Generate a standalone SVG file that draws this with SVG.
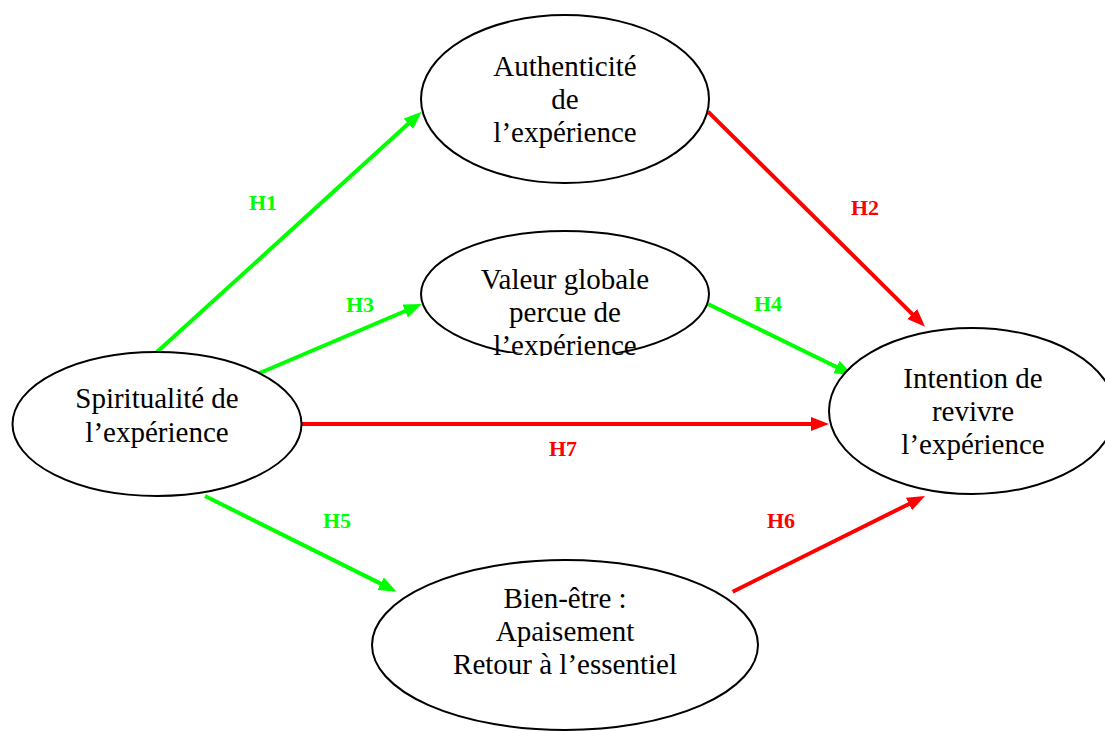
<svg xmlns="http://www.w3.org/2000/svg" width="1105" height="731" viewBox="0 0 1105 731">
<style>
.node ellipse{fill:#fff;stroke:#000;stroke-width:2}
.t{font-family:"Liberation Serif","Times New Roman",serif;font-size:29px;fill:#000;text-anchor:middle}
.g{stroke:#00FF00;stroke-width:4;fill:none}
.r{stroke:#FF0000;stroke-width:4;fill:none}
.lg{font-family:"Liberation Serif","Times New Roman",serif;font-size:22px;font-weight:bold;fill:#00FF00;text-anchor:middle}
.lr{font-family:"Liberation Serif","Times New Roman",serif;font-size:22px;font-weight:bold;fill:#FF0000;text-anchor:middle}
</style>
<defs>
<marker id="ag" markerUnits="userSpaceOnUse" markerWidth="20" markerHeight="16" refX="4" refY="7" orient="auto"><path d="M0,0 L18,7 L0,14 z" fill="#00FF00"/></marker>
<marker id="ar" markerUnits="userSpaceOnUse" markerWidth="20" markerHeight="16" refX="4" refY="7" orient="auto"><path d="M0,0 L18,7 L0,14 z" fill="#FF0000"/></marker>
<clipPath id="cv"><rect x="440" y="255" width="250" height="101"/></clipPath>
</defs>
<rect width="1105" height="731" fill="#fff"/>
<g id="connectors">
<line class="g" x1="157" y1="352" x2="411.3" y2="121.1" marker-end="url(#ag)"/>
<line class="r" x1="708" y1="111.7" x2="915.1" y2="316.8" marker-end="url(#ar)"/>
<line class="g" x1="255" y1="375" x2="408.8" y2="309.5" marker-end="url(#ag)"/>
<line class="g" x1="708" y1="304" x2="840.1" y2="368.8" marker-end="url(#ag)"/>
<line class="r" x1="301" y1="424" x2="815" y2="424" marker-end="url(#ar)"/>
<line class="g" x1="205" y1="496" x2="384.2" y2="585.4" marker-end="url(#ag)"/>
<line class="r" x1="732.7" y1="591.7" x2="912.5" y2="502.2" marker-end="url(#ar)"/>
<text class="lg" x="263" y="210">H1</text>
<text class="lr" x="865" y="215">H2</text>
<text class="lg" x="360" y="312">H3</text>
<text class="lg" x="768" y="311">H4</text>
<text class="lg" x="337" y="528">H5</text>
<text class="lr" x="781" y="528">H6</text>
<text class="lr" x="563" y="456">H7</text>
</g>
<g id="authenticite" class="node">
<ellipse cx="565" cy="99" rx="144" ry="84"/>
<text class="t" x="565" y="76">Authenticité</text>
<text class="t" x="565" y="109">de</text>
<text class="t" x="565" y="142">l’expérience</text>
</g>
<g id="valeur" class="node">
<ellipse cx="565" cy="294" rx="144" ry="63"/>
<rect x="470" y="353" width="190" height="8" fill="#fff"/>
<g clip-path="url(#cv)">
<text class="t" x="565" y="289">Valeur globale</text>
<text class="t" x="565" y="322">percue de</text>
<text class="t" x="565" y="355">l’expérience</text>
</g>
</g>
<g id="spiritualite" class="node">
<ellipse cx="157" cy="424" rx="144.5" ry="72"/>
<text class="t" x="157" y="408">Spiritualité de</text>
<text class="t" x="157" y="442">l’expérience</text>
</g>
<g id="intention" class="node">
<ellipse cx="972" cy="411" rx="143" ry="83"/>
<text class="t" x="973" y="388">Intention de</text>
<text class="t" x="973" y="421">revivre</text>
<text class="t" x="973" y="454">l’expérience</text>
</g>
<g id="bienetre" class="node">
<ellipse cx="565" cy="645" rx="193" ry="85"/>
<text class="t" x="565" y="608">Bien-être :</text>
<text class="t" x="565" y="641">Apaisement</text>
<text class="t" x="565" y="674">Retour à l’essentiel</text>
</g>
</svg>
